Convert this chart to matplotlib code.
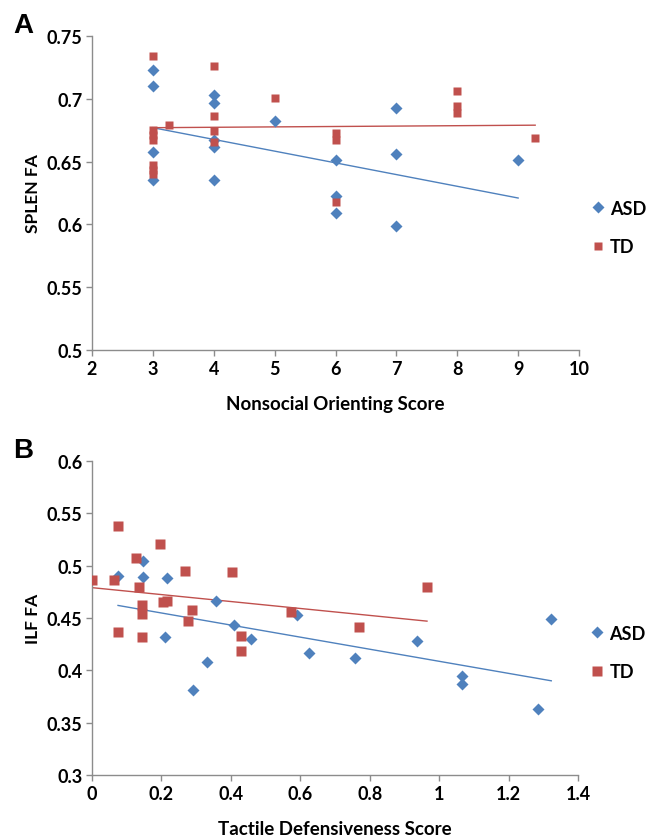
import numpy as np
import matplotlib
matplotlib.use('Agg')
from matplotlib import pyplot as plt
from matplotlib.lines import Line2D

# panel A: SPLEN FA vs Nonsocial Orienting Score
asd_a_x = [3, 3, 3, 3, 4, 4, 4, 4, 4, 5, 6, 6, 6, 7, 7, 7, 9]
asd_a_y = [0.723, 0.710, 0.658, 0.635, 0.703, 0.697, 0.667, 0.662, 0.635,
           0.682, 0.651, 0.623, 0.609, 0.693, 0.656, 0.599, 0.651]
td_a_x = [3, 3, 3, 3, 3, 3, 3, 3.26, 4, 4, 4, 4, 5, 6, 6, 6, 8, 8, 8, 9.28]
td_a_y = [0.734, 0.675, 0.671, 0.667, 0.647, 0.643, 0.640, 0.679, 0.726, 0.686,
          0.674, 0.666, 0.701, 0.673, 0.667, 0.618, 0.706, 0.694, 0.689, 0.669]
asd_a_trend_x = [3, 9]
asd_a_trend_y = [0.677, 0.621]
td_a_trend_x = [3, 9.28]
td_a_trend_y = [0.677, 0.679]

# panel B: ILF FA vs Tactile Defensiveness Score
asd_b_x = [0.075, 0.147, 0.147, 0.216, 0.21, 0.357, 0.409, 0.458, 0.331, 0.291,
           0.59, 0.625, 0.758, 0.937, 1.066, 1.066, 1.323, 1.285]
asd_b_y = [0.490, 0.504, 0.489, 0.488, 0.432, 0.466, 0.443, 0.430, 0.408, 0.381,
           0.453, 0.417, 0.412, 0.428, 0.395, 0.387, 0.449, 0.363]
td_b_x = [0.0, 0.063, 0.075, 0.127, 0.135, 0.196, 0.268, 0.403, 0.144, 0.144,
          0.205, 0.216, 0.288, 0.277, 0.075, 0.144, 0.43, 0.43, 0.573, 0.77, 0.965]
td_b_y = [0.486, 0.486, 0.538, 0.507, 0.480, 0.521, 0.495, 0.494, 0.462, 0.454,
          0.465, 0.466, 0.458, 0.447, 0.437, 0.432, 0.433, 0.418, 0.456, 0.441, 0.480]
asd_b_trend_x = [0.075, 1.323]
asd_b_trend_y = [0.462, 0.390]
td_b_trend_x = [0.0, 0.965]
td_b_trend_y = [0.479, 0.447]

blue = '#4F81BD'
red = '#C0504D'
grey = '#8c8c8c'
font = ['Lato', 'DejaVu Sans']

fig = plt.figure(figsize=(6.51, 8.37), dpi=100)
axA = fig.add_axes([92 / 651, 1 - 351 / 837, 487 / 651, 314 / 837])
axB = fig.add_axes([92 / 651, 1 - 776 / 837, 486 / 651, 314 / 837])


def style(ax, xlim, ylim, xticks, yticks, xlabels, ylabels):
    ax.set_xlim(*xlim)
    ax.set_ylim(*ylim)
    ax.set_xticks(xticks)
    ax.set_yticks(yticks)
    ax.set_xticklabels(xlabels, fontfamily=font, fontweight='bold', fontsize=13)
    ax.set_yticklabels(ylabels, fontfamily=font, fontweight='bold', fontsize=13)
    for s in ['top', 'right']:
        ax.spines[s].set_visible(False)
    for s in ['left', 'bottom']:
        ax.spines[s].set_color(grey)
        ax.spines[s].set_linewidth(1.0)
    ax.tick_params(direction='out', length=4, width=1, color=grey, pad=3)


def draw(ax, ax_x, ax_y, td_x, td_y, at_x, at_y, tt_x, tt_y, dsz, ssz):
    ax.plot(at_x, at_y, color=blue, lw=1.0, zorder=2)
    ax.plot(tt_x, tt_y, color=red, lw=1.0, zorder=2)
    ax.plot(ax_x, ax_y, 'D', color=blue, ms=dsz, mec='none', zorder=3)
    ax.plot(td_x, td_y, 's', color=red, ms=ssz, mec='none', zorder=3)
    handles = [Line2D([], [], marker='D', ls='none', color=blue, ms=dsz, mec='none'),
               Line2D([], [], marker='s', ls='none', color=red, ms=ssz, mec='none')]
    ax.legend(handles, ['ASD', 'TD'], loc='center left', bbox_to_anchor=(0.99, 0.39),
              frameon=False, handlelength=0.8, handletextpad=0.3, labelspacing=1.2,
              prop={'family': font, 'weight': 'bold', 'size': 13})


draw(axA, asd_a_x, asd_a_y, td_a_x, td_a_y, asd_a_trend_x, asd_a_trend_y,
     td_a_trend_x, td_a_trend_y, 6.5, 5.8)
style(axA, (2, 10), (0.5, 0.75), range(2, 11), np.arange(0.5, 0.751, 0.05),
      [str(v) for v in range(2, 11)], ['0.5', '0.55', '0.6', '0.65', '0.7', '0.75'])
axA.set_xlabel('Nonsocial Orienting Score', fontfamily=font, fontweight='bold',
               fontsize=13.5, labelpad=13)
axA.set_ylabel('SPLEN FA', fontfamily=font, fontweight='bold', fontsize=12.5, labelpad=4)

draw(axB, asd_b_x, asd_b_y, td_b_x, td_b_y, asd_b_trend_x, asd_b_trend_y,
     td_b_trend_x, td_b_trend_y, 6.2, 7.2)
style(axB, (0, 1.4), (0.3, 0.6), np.arange(0, 1.41, 0.2), np.arange(0.3, 0.601, 0.05),
      ['0', '0.2', '0.4', '0.6', '0.8', '1', '1.2', '1.4'],
      ['0.3', '0.35', '0.4', '0.45', '0.5', '0.55', '0.6'])
axB.set_xlabel('Tactile Defensiveness Score', fontfamily=font, fontweight='bold',
               fontsize=13.5, labelpad=13)
axB.set_ylabel('ILF FA', fontfamily=font, fontweight='bold', fontsize=12.5, labelpad=4)

fig.text(13 / 651, 1 - 13 / 837, 'A', fontfamily='Liberation Sans', fontweight='bold',
         fontsize=20, va='top', ha='left')
fig.text(13 / 651, 1 - 438 / 837, 'B', fontfamily='Liberation Sans', fontweight='bold',
         fontsize=20, va='top', ha='left')

fig.savefig('out.png', dpi=100)
